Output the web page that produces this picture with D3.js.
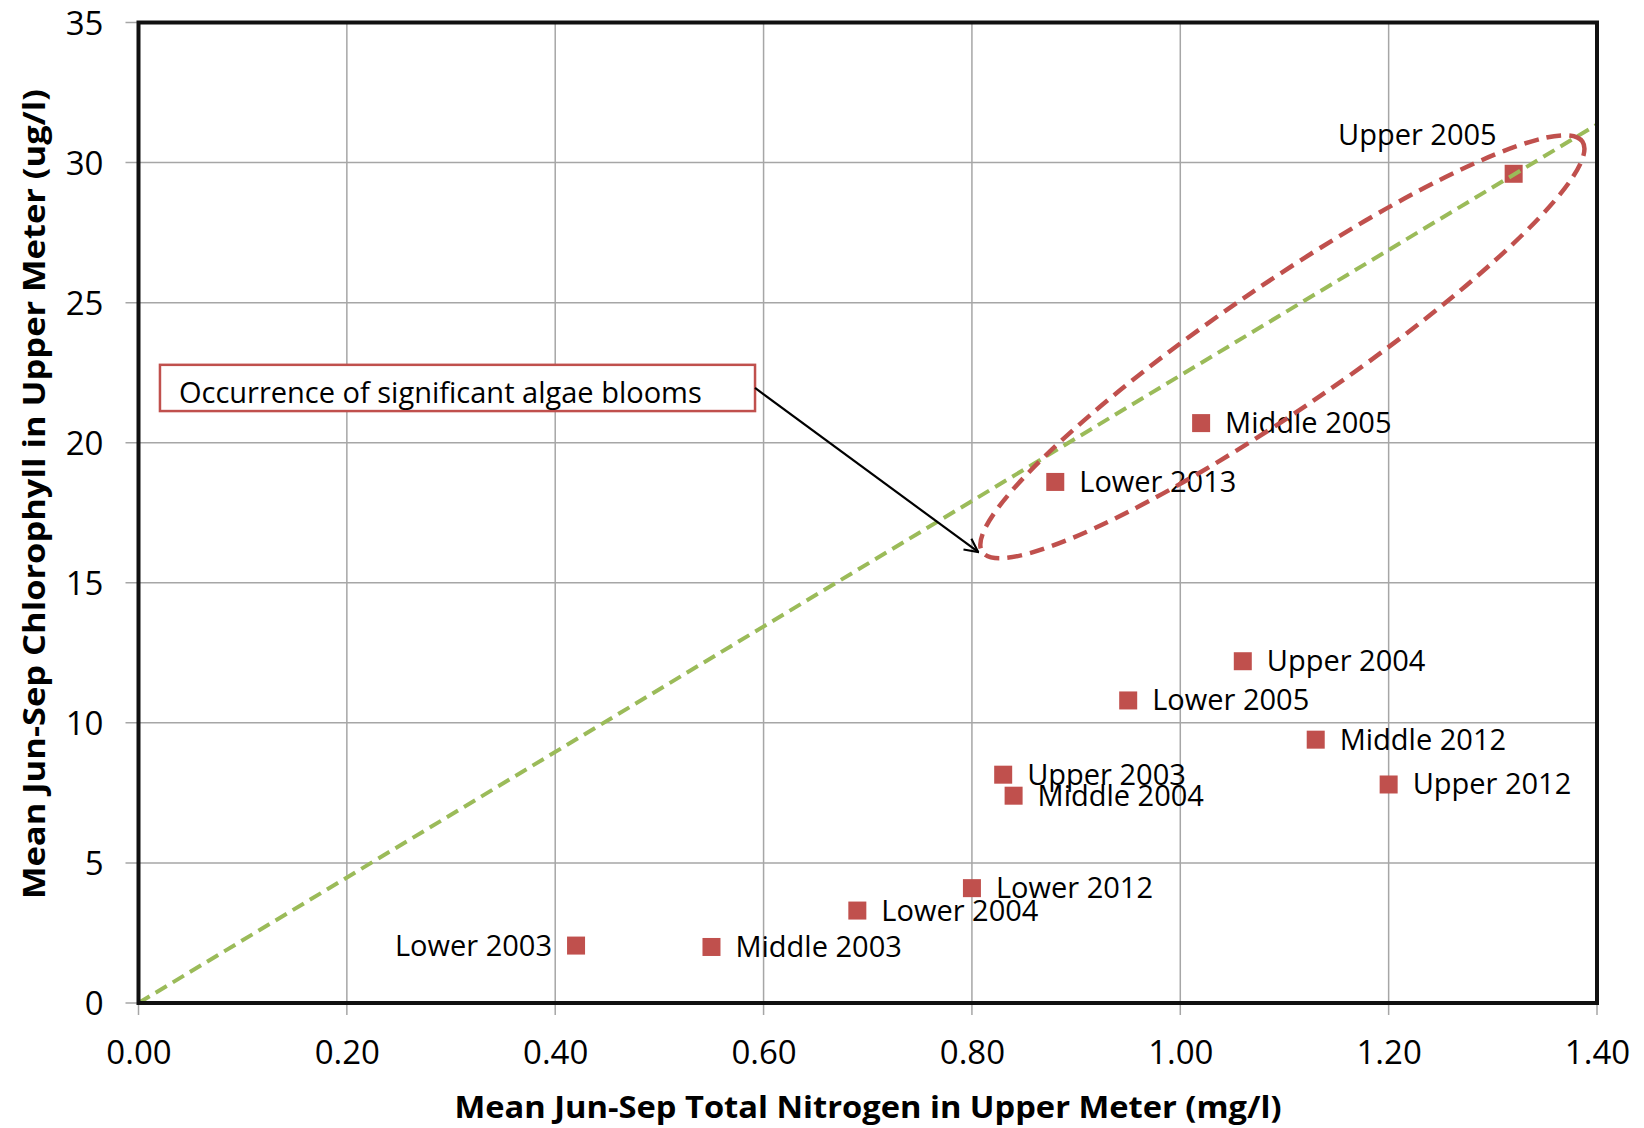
<!DOCTYPE html>
<html>
<head>
<meta charset="utf-8">
<script src="https://cdn.jsdelivr.net/npm/d3@7"></script>
<style>
  body { margin: 0; background: #fff; }
  text { font-family: "Open Sans", sans-serif; fill: #000; }
</style>
</head>
<body>
<svg id="chart"></svg>
<script>
// data
const sites = ["Upper 2005", "Middle 2005", "Lower 2013", "Upper 2004", "Lower 2005",
  "Middle 2012", "Upper 2012", "Upper 2003", "Middle 2004", "Lower 2012",
  "Lower 2004", "Middle 2003", "Lower 2003"];
const nitrogen = [1.32, 1.02, 0.88, 1.06, 0.95, 1.13, 1.20, 0.83, 0.84, 0.80, 0.69, 0.55, 0.42];
const chlorophyll = [29.6, 20.7, 18.6, 12.2, 10.8, 9.4, 7.8, 8.15, 7.4, 4.1, 3.3, 2.0, 2.05];
const labelSide = ["above", "right", "right", "right", "right", "right", "right",
  "right", "right", "right", "right", "right", "left"];

const xTickValues = [0, 0.2, 0.4, 0.6, 0.8, 1.0, 1.2, 1.4];
const yTickValues = [0, 5, 10, 15, 20, 25, 30, 35];

const trendSlope = 22.4;                       // dashed green line y = slope * x
const bloomTips = [[0.81, 16.1], [1.386, 30.75]]; // ends of the red ellipse (data units)
const calloutText = "Occurrence of significant algae blooms";
const calloutBox = { x0: 0.0206, x1: 0.5918, yTop: 22.78, yBottom: 21.13 };
const calloutTarget = [0.806, 16.1];

const xTitle = "Mean Jun-Sep Total Nitrogen in Upper Meter (mg/l)";
const yTitle = "Mean Jun-Sep Chlorophyll in Upper Meter (ug/l)";

const width = 1644, height = 1128;
const margin = { top: 22.5, right: 47, bottom: 125, left: 138.5 };
const innerW = width - margin.left - margin.right;
const innerH = height - margin.top - margin.bottom;

const red = "#C0504D", green = "#9BBB59", grid = "#A6A6A6";

const svg = d3.select("#chart").attr("width", width).attr("height", height);
svg.append("rect").attr("width", width).attr("height", height).attr("fill", "#fff");

const x = d3.scaleLinear().domain([0, 1.4]).range([0, innerW]);
const y = d3.scaleLinear().domain([0, 35]).range([innerH, 0]);

const g = svg.append("g").attr("transform", `translate(${margin.left},${margin.top})`);

// gridlines
g.append("g")
  .selectAll("line.vgrid")
  .data(xTickValues)
  .join("line")
  .attr("class", "vgrid")
  .attr("x1", d => x(d)).attr("x2", d => x(d))
  .attr("y1", 0).attr("y2", innerH + 12)
  .attr("stroke", grid).attr("stroke-width", 1.5);

g.append("g")
  .selectAll("line.hgrid")
  .data(yTickValues)
  .join("line")
  .attr("class", "hgrid")
  .attr("x1", -13).attr("x2", innerW)
  .attr("y1", d => y(d)).attr("y2", d => y(d))
  .attr("stroke", grid).attr("stroke-width", 1.5);

// axes (labels only, lines drawn above)
const xAxis = g.append("g")
  .attr("transform", `translate(0,${innerH})`)
  .call(d3.axisBottom(x).tickValues(xTickValues).tickFormat(d3.format(".2f")).tickSize(0).tickPadding(0));
xAxis.select(".domain").remove();
xAxis.selectAll("text")
  .attr("font-size", 33).attr("y", 61).attr("dy", 0)
  .style("font-family", "'Open Sans', sans-serif").attr("fill", "#000");

const yAxis = g.append("g")
  .call(d3.axisLeft(y).tickValues(yTickValues).tickSize(0).tickPadding(0));
yAxis.select(".domain").remove();
yAxis.selectAll("text")
  .attr("font-size", 33).attr("x", -35).attr("dy", "0.35em")
  .style("font-family", "'Open Sans', sans-serif").attr("fill", "#000");

// markers
const pts = sites.map((s, i) => ({ name: s, n: nitrogen[i], c: chlorophyll[i], side: labelSide[i] }));
const ms = 18;
g.append("g")
  .selectAll("rect.pt")
  .data(pts)
  .join("rect")
  .attr("class", "pt")
  .attr("x", d => x(d.n) - ms / 2)
  .attr("y", d => y(d.c) - ms / 2)
  .attr("width", ms).attr("height", ms)
  .attr("fill", red);

// trend line
g.append("line")
  .attr("x1", x(0)).attr("y1", y(0))
  .attr("x2", x(1.4)).attr("y2", y(trendSlope * 1.4))
  .attr("stroke", green).attr("stroke-width", 4)
  .attr("stroke-dasharray", "13 7");

// point labels
g.append("g")
  .selectAll("text.lbl")
  .data(pts)
  .join("text")
  .attr("class", "lbl")
  .attr("font-size", 29)
  .attr("x", d => d.side === "right" ? x(d.n) + 24 : d.side === "left" ? x(d.n) - 24 : x(d.n) - 17)
  .attr("y", d => d.side === "above" ? y(d.c) - 29 : y(d.c) + 10)
  .attr("text-anchor", d => d.side === "right" ? "start" : "end")
  .text(d => d.name);

// bloom ellipse
const p1 = [x(bloomTips[0][0]), y(bloomTips[0][1])];
const p2 = [x(bloomTips[1][0]), y(bloomTips[1][1])];
const ecx = (p1[0] + p2[0]) / 2, ecy = (p1[1] + p2[1]) / 2;
const erx = Math.hypot(p2[0] - p1[0], p2[1] - p1[1]) / 2;
const eang = Math.atan2(p2[1] - p1[1], p2[0] - p1[0]) * 180 / Math.PI;
g.append("ellipse")
  .attr("cx", 0).attr("cy", 0).attr("rx", erx).attr("ry", 62)
  .attr("transform", `translate(${ecx},${ecy}) rotate(${eang})`)
  .attr("fill", "none").attr("stroke", red).attr("stroke-width", 4.5)
  .attr("stroke-dasharray", "15 8");

// plot border
g.append("rect")
  .attr("width", innerW).attr("height", innerH)
  .attr("fill", "none").attr("stroke", "#111").attr("stroke-width", 4);

// callout box + arrow
svg.append("defs").append("marker")
  .attr("id", "arrow")
  .attr("viewBox", "0 0 12 12")
  .attr("refX", 11).attr("refY", 6)
  .attr("markerWidth", 16).attr("markerHeight", 16)
  .attr("markerUnits", "userSpaceOnUse")
  .attr("orient", "auto")
  .append("path")
  .attr("d", "M1,1 L11,6 L1,11")
  .attr("fill", "none").attr("stroke", "#000").attr("stroke-width", 1.6);

const bx0 = x(calloutBox.x0), bx1 = x(calloutBox.x1);
const by0 = y(calloutBox.yTop), by1 = y(calloutBox.yBottom);
g.append("rect")
  .attr("x", bx0).attr("y", by0)
  .attr("width", bx1 - bx0).attr("height", by1 - by0)
  .attr("fill", "#fff").attr("stroke", red).attr("stroke-width", 2.5);
g.append("text")
  .attr("x", bx0 + 19).attr("y", by0 + 38)
  .attr("font-size", 29)
  .text(calloutText);

g.append("line")
  .attr("x1", bx1).attr("y1", (by0 + by1) / 2)
  .attr("x2", x(calloutTarget[0])).attr("y2", y(calloutTarget[1]))
  .attr("stroke", "#000").attr("stroke-width", 2.2)
  .attr("marker-end", "url(#arrow)");

// axis titles
svg.append("text")
  .attr("x", 868).attr("y", 1118)
  .attr("text-anchor", "middle")
  .attr("font-size", 31).attr("font-weight", "bold")
  .attr("textLength", 827).attr("lengthAdjust", "spacingAndGlyphs")
  .text(xTitle);

svg.append("text")
  .attr("transform", "translate(45,494) rotate(-90)")
  .attr("text-anchor", "middle")
  .attr("font-size", 31).attr("font-weight", "bold")
  .attr("textLength", 810).attr("lengthAdjust", "spacingAndGlyphs")
  .text(yTitle);
</script>
</body>
</html>
